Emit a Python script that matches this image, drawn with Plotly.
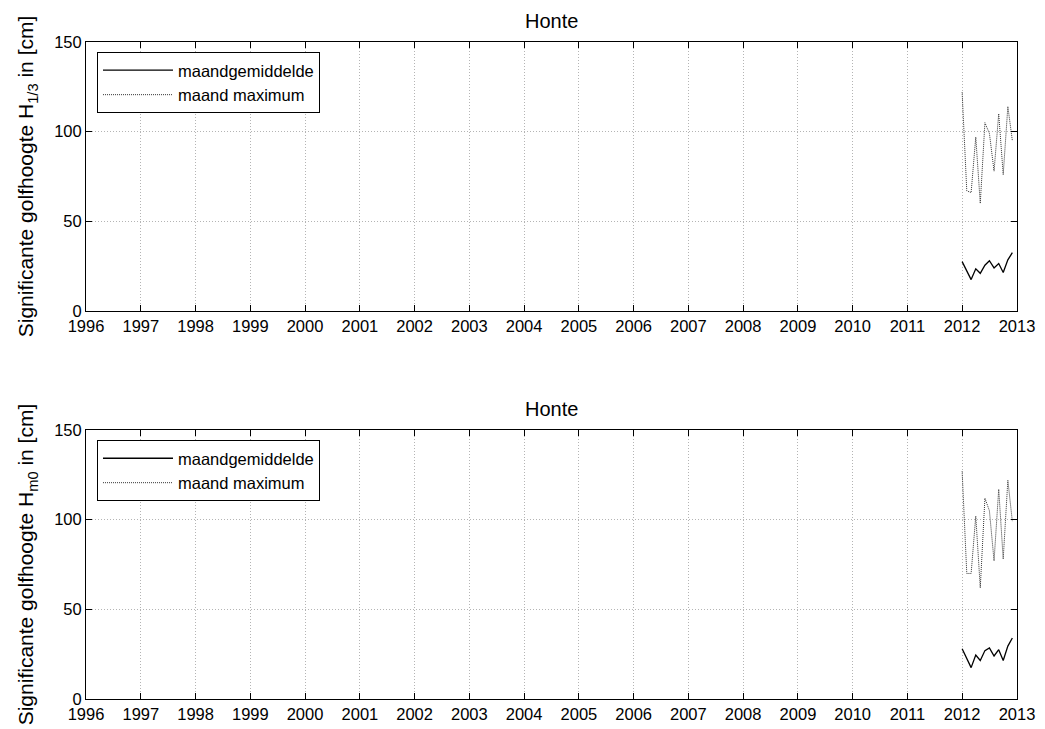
import plotly.graph_objects as go

months = ["2012-01-01", "2012-02-01", "2012-03-01", "2012-04-01", "2012-05-01", "2012-06-01",
          "2012-07-01", "2012-08-01", "2012-09-01", "2012-10-01", "2012-11-01", "2012-12-01"]

h13_mean = [27.5, 22.5, 17.5, 23.5, 21, 25.5, 28, 24, 26.5, 21.5, 28.5, 32.5]
h13_max = [122, 67, 66, 97, 60, 105, 99, 78, 110, 76, 114, 95]

hm0_mean = [28, 22.5, 17.5, 24.5, 21.5, 27, 28.5, 24, 27.5, 21.5, 29.5, 34]
hm0_max = [127, 70, 70, 102, 62, 112, 105, 77, 117, 78, 122, 99]

year_ticks = [str(y) for y in range(1996, 2014)]
title_text = "Honte"
ylabels = ["Significante golfhoogte H<sub>1/3</sub> in [cm]",
           "Significante golfhoogte H<sub>m0</sub> in [cm]"]

FONT = "Liberation Sans, Arial, sans-serif"

fig = go.Figure()

fig.add_trace(go.Scatter(x=months, y=h13_mean, mode="lines", name="maandgemiddelde",
                         line=dict(color="black", width=1.3), xaxis="x", yaxis="y", legend="legend"))
fig.add_trace(go.Scatter(x=months, y=h13_max, mode="lines", name="maand maximum",
                         line=dict(color="#333333", width=1, dash="1px,1px"), xaxis="x", yaxis="y", legend="legend"))
fig.add_trace(go.Scatter(x=months, y=hm0_mean, mode="lines", name="maandgemiddelde",
                         line=dict(color="black", width=1.3), xaxis="x2", yaxis="y2", legend="legend2"))
fig.add_trace(go.Scatter(x=months, y=hm0_max, mode="lines", name="maand maximum",
                         line=dict(color="#333333", width=1, dash="1px,1px"), xaxis="x2", yaxis="y2", legend="legend2"))

tickvals = [f"{y}-01-01" for y in range(1996, 2014)]

def xaxis_cfg(anchor):
    return dict(anchor=anchor, type="date", range=["1996-01-01", "2013-01-01"],
                tickvals=tickvals, ticktext=year_ticks, ticks="inside", ticklen=6,
                tickcolor="black", showline=True, linecolor="black", linewidth=1,
                mirror="ticks", showgrid=True, gridcolor="#b4b4b4", griddash="1px,2px",
                gridwidth=1, zeroline=False, automargin=False,
                tickfont=dict(size=16.5, color="black"))

def yaxis_cfg(anchor, domain, label):
    return dict(anchor=anchor, domain=domain, range=[0, 150], tickvals=[0, 50, 100, 150],
                ticks="inside", ticklen=6, tickcolor="black", showline=True, linecolor="black",
                linewidth=1, mirror="ticks", showgrid=True, gridcolor="#b4b4b4", griddash="1px,2px",
                gridwidth=1, zeroline=False, automargin=False,
                tickfont=dict(size=16.5, color="black"),
                title=dict(text=label, font=dict(size=21, color="black"), standoff=14))

legend_cfg = dict(bgcolor="white", bordercolor="black", borderwidth=1,
                  font=dict(size=16.5, color="black", family=FONT), itemwidth=70,
                  xanchor="left", yanchor="top", tracegroupgap=0)

# page body has an 8px margin; figure sized to fit the 1045x729 window
fig.update_layout(
    width=1037, height=721,
    margin=dict(l=78, r=28, t=34, b=30),
    paper_bgcolor="white", plot_bgcolor="white",
    font=dict(family=FONT, color="black"),
    showlegend=True,
    xaxis=xaxis_cfg("y"),
    yaxis=yaxis_cfg("x", [0.5906, 1.0], ylabels[0]),
    xaxis2=xaxis_cfg("y2"),
    yaxis2=yaxis_cfg("x2", [0.0, 0.4094], ylabels[1]),
    legend=dict(x=0.0118, y=0.9848, **legend_cfg),
    legend2=dict(x=0.0118, y=0.3942, **legend_cfg),
    annotations=[
        dict(text=title_text, x=0.5, y=1.0, xref="paper", yref="paper", xanchor="center",
             yanchor="bottom", yshift=8, showarrow=False, font=dict(size=20, color="black")),
        dict(text=title_text, x=0.5, y=0.4094, xref="paper", yref="paper", xanchor="center",
             yanchor="bottom", yshift=8, showarrow=False, font=dict(size=20, color="black")),
    ],
)

fig.write_html("out.html")
